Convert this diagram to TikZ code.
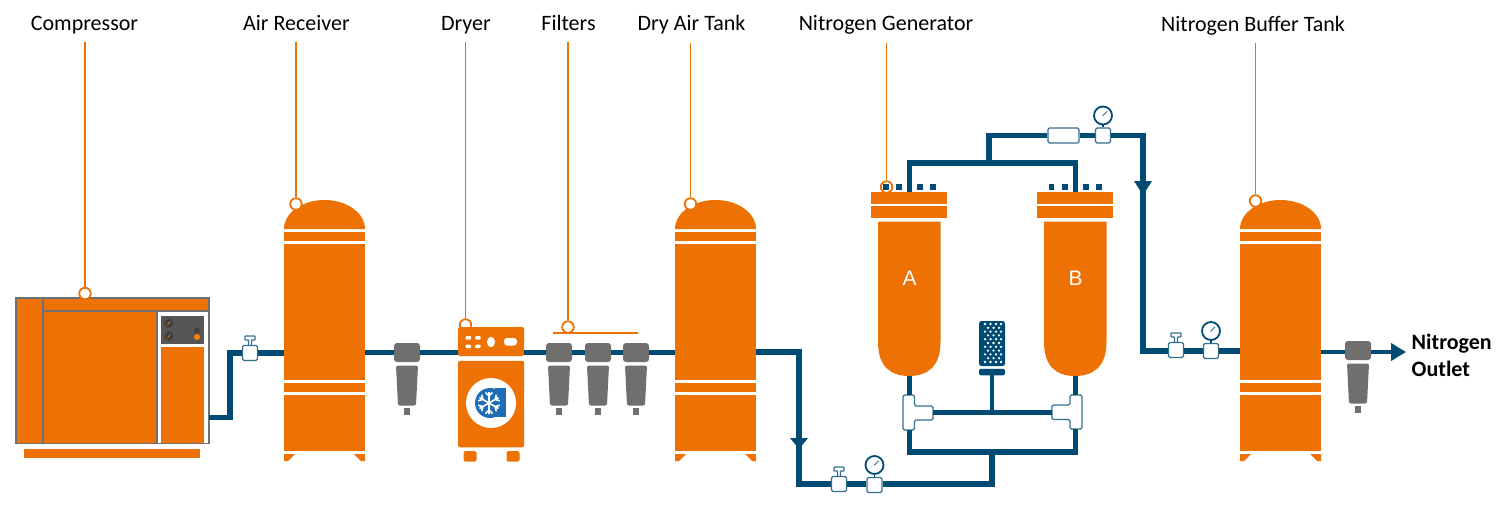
\documentclass[tikz,border=0pt]{standalone}
\usepackage{fontspec}
\setmainfont{Carlito}
\newfontfamily\vesselfont{Liberation Sans}
\usetikzlibrary{arrows.meta}
\definecolor{plantorange}{HTML}{EE7203}
\definecolor{pipeblue}{HTML}{004B73}
\definecolor{filtergrey}{HTML}{6F6F6E}
\definecolor{framegrey}{HTML}{6E7072}
\definecolor{panelgrey}{HTML}{565656}
\definecolor{logoblue}{HTML}{1F6DB5}
\tikzset{
	pipe/.style={draw=pipeblue,line width=5.5pt},
	leader/.style={draw=plantorange,line width=1.8pt},
	ringmark/.style={circle,draw=plantorange,line width=1.8pt,fill=white,minimum size=11.5pt,inner sep=0pt},
	taglabel/.style={font=\fontsize{22}{26}\selectfont,anchor=base,text height=15pt,text depth=5pt,inner xsep=0pt,inner ysep=7pt},
	fitting/.style={draw=pipeblue!80,line width=1.1pt,fill=white,rounded corners=1.5pt},
	valvebox/.style={fitting,minimum size=15pt,inner sep=0pt},
	gaugedial/.style={circle,draw=pipeblue,line width=1.8pt,fill=white,minimum size=18pt,inner sep=0pt},
	filterhead/.style={fill=filtergrey,rounded corners=3pt,minimum width=26pt,minimum height=19pt,inner sep=0pt}
}
\begin{document}
\begin{tikzpicture}[x=1pt,y=-1pt]
	\useasboundingbox (0,0) rectangle (1506,509);

	\node[taglabel] (compressorLabel) at (84.5,30) {Compressor};
	\node[taglabel] (receiverLabel) at (296.5,30) {Air Receiver};
	\node[taglabel] (dryerLabel) at (466,30) {Dryer};
	\node[taglabel] (filtersLabel) at (568.5,30) {Filters};
	\node[taglabel] (dryTankLabel) at (691.5,30.5) {Dry Air Tank};
	\node[taglabel] (generatorLabel) at (886,30.5) {Nitrogen Generator};
	\node[taglabel] (bufferLabel) at (1253,31) {Nitrogen Buffer Tank};

	\node[draw=framegrey,line width=1.6pt,fill=plantorange,minimum width=193pt,minimum height=145.5pt,inner sep=0pt] (compressor) at (112.5,370.7) {};
	\fill[white] (157,311) rectangle (208.2,443);
	\draw[framegrey,line width=1.6pt] (43,298) -- (43,444) (43,311) -- (209,311) (157,311) -- (157,444);
	\fill[panelgrey] (161,316) rectangle (204,344);
	\fill[plantorange] (161,347) rectangle (204,443);
	\fill[plantorange] (24,449) rectangle (199.5,458);
	\foreach \y in {323,336} {
		\draw[black!70,line width=1pt,fill=panelgrey!70!black] (169,\y) circle (4.5);
		\draw[orange,line width=.7pt] (167.5,\y+1.5) -- (170.5,\y-1.5);
	}
	\fill[black!75] (197,330.5) circle (3);
	\fill[orange] (197,337) circle (3);

	\foreach \x/\nm in {284/receiver,675/dryTank,1240/buffer} {
		\fill[plantorange] (\x,229) .. controls (\x,213) and (\x+18,200) .. (\x+40.5,200) .. controls (\x+63,200) and (\x+81,213) .. (\x+81,229) -- cycle;
		\fill[plantorange] (\x,232) rectangle (\x+81,241);
		\fill[plantorange] (\x,244) rectangle (\x+81,380);
		\fill[plantorange] (\x,383) rectangle (\x+81,392);
		\fill[plantorange] (\x,395) rectangle (\x+81,451);
		\fill[plantorange] (\x,454) -- (\x+11,454) -- (\x+4,461) -- (\x,461) -- cycle;
		\fill[plantorange] (\x+81,454) -- (\x+70,454) -- (\x+77,461) -- (\x+81,461) -- cycle;
		\coordinate (\nm In) at (\x,352);
		\coordinate (\nm Out) at (\x+81,352);
	}

	\node[ringmark] (dryerRing) at (465.5,325) {};
	\node[fill=plantorange,rounded corners=1.5pt,minimum width=66pt,minimum height=29pt,inner sep=0pt] (dryerHead) at (491,341.5) {};
	\node[fill=plantorange,rounded corners=1.5pt,minimum width=66pt,minimum height=86.5pt,inner sep=0pt] (dryerBody) at (491,404) {};
	\fill[plantorange,rounded corners=1.5pt] (463.5,451) rectangle (476.5,461.5);
	\fill[plantorange,rounded corners=1.5pt] (506.5,451) rectangle (519.5,461.5);
	\fill[white,rounded corners=1pt] (465.5,336) rectangle (471,339.5) (475,336) rectangle (480.5,339.5);
	\fill[white,rounded corners=1pt] (465.5,344.5) rectangle (471,348) (475,344.5) rectangle (480.5,348);
	\fill[white] (491,342) ellipse (4 and 5.2);
	\fill[white,rounded corners=3pt] (504,338) rectangle (517,345.5);
	\fill[white] (491,403) circle (25);
	\fill[logoblue] (490,403) circle (15);
	\fill[logoblue] (495,388) rectangle (506,417);
	\foreach \a in {0,60,...,300} {
		\draw[white,line width=1.6pt,shift={(489,403)},rotate=\a] (0,0) -- (0,-11) (0,-7) -- (-3.5,-10.5) (0,-7) -- (3.5,-10.5);
	}

	\foreach \x/\y/\nm in {407/352.5/filterA,559/352.5/filterB,598/352.5/filterC,636/352.5/filterD,1358/350.5/filterE} {
		\node[filterhead] (\nm) at (\x,\y) {};
		\fill[filtergrey,rounded corners=2pt] (\x-11,\y+13) -- (\x+11,\y+13) -- (\x+9,\y+53) -- (\x-9,\y+53) -- cycle;
		\fill[filtergrey] (\x-3,\y+55) rectangle (\x+3,\y+62);
	}

	\draw[plantorange,line width=2pt] (553,333) -- (638,333);

	\foreach \x/\nm/\txt in {878/vesselA/A,1044/vesselB/B} {
		\fill[plantorange] (\x-7,192) rectangle (\x+69,203.5);
		\fill[plantorange] (\x-7,206) rectangle (\x+69,217.5);
		\fill[plantorange] (\x,221.5) -- (\x,342) .. controls (\x,366) and (\x+12,376) .. (\x+31,376) .. controls (\x+50,376) and (\x+62.5,366) .. (\x+62.5,342) -- (\x+62.5,221.5) -- cycle;
		\node[white,font=\vesselfont\fontsize{21}{24}\selectfont] (\nm) at (\x+31.5,278.5) {\txt};
		\coordinate (\nm Top) at (\x+31.5,192);
		\coordinate (\nm Out) at (\x+31.5,376);
	}

	\draw[fitting] (903,395) -- (914.5,395) -- (914.5,406) -- (933,406) -- (933,420) -- (914.5,420) -- (914.5,430) -- (903,430) -- cycle;
	\draw[fitting] (1082,395) -- (1070,395) -- (1070,405) -- (1052,405) -- (1052,419.5) -- (1070,419.5) -- (1070,429) -- (1082,429) -- cycle;
	\coordinate (teeATop) at (909.5,395);
	\coordinate (teeABot) at (909.5,430);
	\coordinate (teeAEnd) at (933,412.5);
	\coordinate (teeBTop) at (1075.5,395);
	\coordinate (teeBBot) at (1075.5,429);
	\coordinate (teeBEnd) at (1052,412.5);

	\node[fill=pipeblue,rounded corners=2.5pt,minimum width=26pt,minimum height=45pt,inner sep=0pt] (silencer) at (992,343.5) {};
	\node[fill=pipeblue,rounded corners=2pt,minimum width=26pt,minimum height=6.5pt,inner sep=0pt] (silencerBase) at (992,372) {};
	\foreach \r in {0,2,...,10} {
		\foreach \x in {985,990.5,996,1001} {
			\fill[white] (\x,324+3.8*\r) circle (1.3);
		}
	}
	\foreach \r in {1,3,...,9} {
		\foreach \x in {988,993.5,999} {
			\fill[white] (\x,324+3.8*\r) circle (1.3);
		}
	}

	\foreach \x/\y/\nm in {250/353/valveComp,839/484/valveLow,1176/350/valveBuffer} {
		\draw[fitting,rounded corners=.5pt] (\x-1.5,\y-8) -- (\x-1.5,\y-13) -- (\x-5,\y-13) -- (\x-5,\y-17) -- (\x+5,\y-17) -- (\x+5,\y-13) -- (\x+1.5,\y-13) -- (\x+1.5,\y-8);
		\node[valvebox] (\nm) at (\x,\y) {};
	}
	\foreach \x/\y/\nm in {874.5/485/gaugeLow,1103/135.5/gaugeTop,1211/351/gaugeBuffer} {
		\node[valvebox] (\nm) at (\x,\y) {};
		\node[gaugedial] (\nm Dial) at (\x,\y-20) {};
		\draw[pipeblue,line width=1.4pt] (\nm) -- (\nm Dial);
		\draw[pipeblue!80,line width=.8pt] (\x-.5,\y-19.5) -- (\x+4,\y-24);
	}
	\node[fitting,minimum width=31pt,minimum height=15pt,inner sep=0pt] (flowRestrictor) at (1063.5,135.5) {};

	\node[ringmark] (compressorRing) at (85,293.5) {};
	\node[ringmark] (receiverRing) at (296,204) {};
	\node[ringmark] (filtersRing) at (568,327) {};
	\node[ringmark] (dryTankRing) at (690.5,204) {};
	\node[ringmark] (generatorRing) at (886.5,187) {};
	\node[ringmark] (bufferRing) at (1255.5,201) {};
	\draw[leader] (compressorRing) -- (compressorRing |- compressorLabel.south);
	\draw[leader] (receiverRing) -- (receiverRing |- receiverLabel.south);
	\draw[leader] (dryerRing) -- (dryerRing |- dryerLabel.south);
	\draw[leader] (filtersRing) -- (filtersRing |- filtersLabel.south);
	\draw[leader] (dryTankRing) -- (dryTankRing |- dryTankLabel.south);
	\draw[leader] (generatorRing) -- (generatorRing |- generatorLabel.south);
	\draw[leader] (bufferRing) -- (bufferRing |- bufferLabel.south);

	\foreach \x in {885.7,899,919.7,933,1051.3,1064.7,1085.7,1099} {
		\fill[pipeblue] (\x-2.8,184) rectangle (\x+2.8,190);
	}

	\coordinate (compressorOut) at (209,417.5);
	\coordinate (compressorBend) at (230,417.5);
	\coordinate (lowCorner) at (799,484);
	\coordinate (bottomJoin) at (992,452);
	\coordinate (loopJoin) at (989,163);
	\coordinate (sideCorner) at (1143,351);
	\coordinate (outletEnd) at (1406,352);

	\draw[pipe] (compressorOut) -- (compressorBend) |- (valveComp);
	\draw[pipe] (valveComp) -- (receiverIn |- valveComp);
	\draw[pipe] (receiverOut |- filterA) -- (filterA);
	\draw[pipe] (filterA) -- (dryerHead.west |- filterA);
	\draw[pipe] (dryerHead.east |- filterB) -- (filterB);
	\draw[pipe] (filterB) -- (filterC);
	\draw[pipe] (filterC) -- (filterD);
	\draw[pipe] (filterD) -- (dryTankIn |- filterD);
	\draw[pipe] (dryTankOut) -| (lowCorner) -- (valveLow);
	\draw[pipe] (valveLow) -- (valveLow -| gaugeLow.west);
	\draw[pipe] (gaugeLow.east |- lowCorner) -| (bottomJoin);
	\draw[pipe] (teeABot) |- (bottomJoin) -| (teeBBot);
	\draw[pipe] (vesselAOut) -- (teeATop);
	\draw[pipe] (vesselBOut) -- (teeBTop);
	\draw[pipe] (teeAEnd) -- (teeBEnd);
	\draw[pipe,line width=4.5pt] (silencerBase) -- (silencerBase |- teeAEnd);
	\draw[pipe] (vesselATop) |- (loopJoin) -| (vesselBTop);
	\draw[pipe] (loopJoin) |- (flowRestrictor);
	\draw[pipe] (flowRestrictor) -- (gaugeTop);
	\draw[pipe] (gaugeTop) -| (sideCorner) -- (valveBuffer.west |- sideCorner);
	\draw[pipe] (valveBuffer.east |- gaugeBuffer) -- (gaugeBuffer);
	\draw[pipe] (gaugeBuffer) -- (bufferIn |- gaugeBuffer);
	\draw[pipe,line width=4.5pt] (bufferOut) -- (bufferOut -| filterE.west);
	\draw[pipe,line width=4.5pt,-{Triangle[length=15pt,width=17pt]}] (filterE.east |- outletEnd) -- (outletEnd);
	\fill[pipeblue] (799,449) -- (790,438) -- (808,438) -- cycle;
	\fill[pipeblue] (1143,195) -- (1134,181) -- (1152,181) -- cycle;

	\node[font=\bfseries\fontsize{22}{26}\selectfont,anchor=base west,inner sep=0pt] (outletTop) at (1411.5,349.5) {Nitrogen};
	\node[font=\bfseries\fontsize{22}{26}\selectfont,anchor=base west,inner sep=0pt] (outletBottom) at (1411.5,376.5) {Outlet};
\end{tikzpicture}
\end{document}
